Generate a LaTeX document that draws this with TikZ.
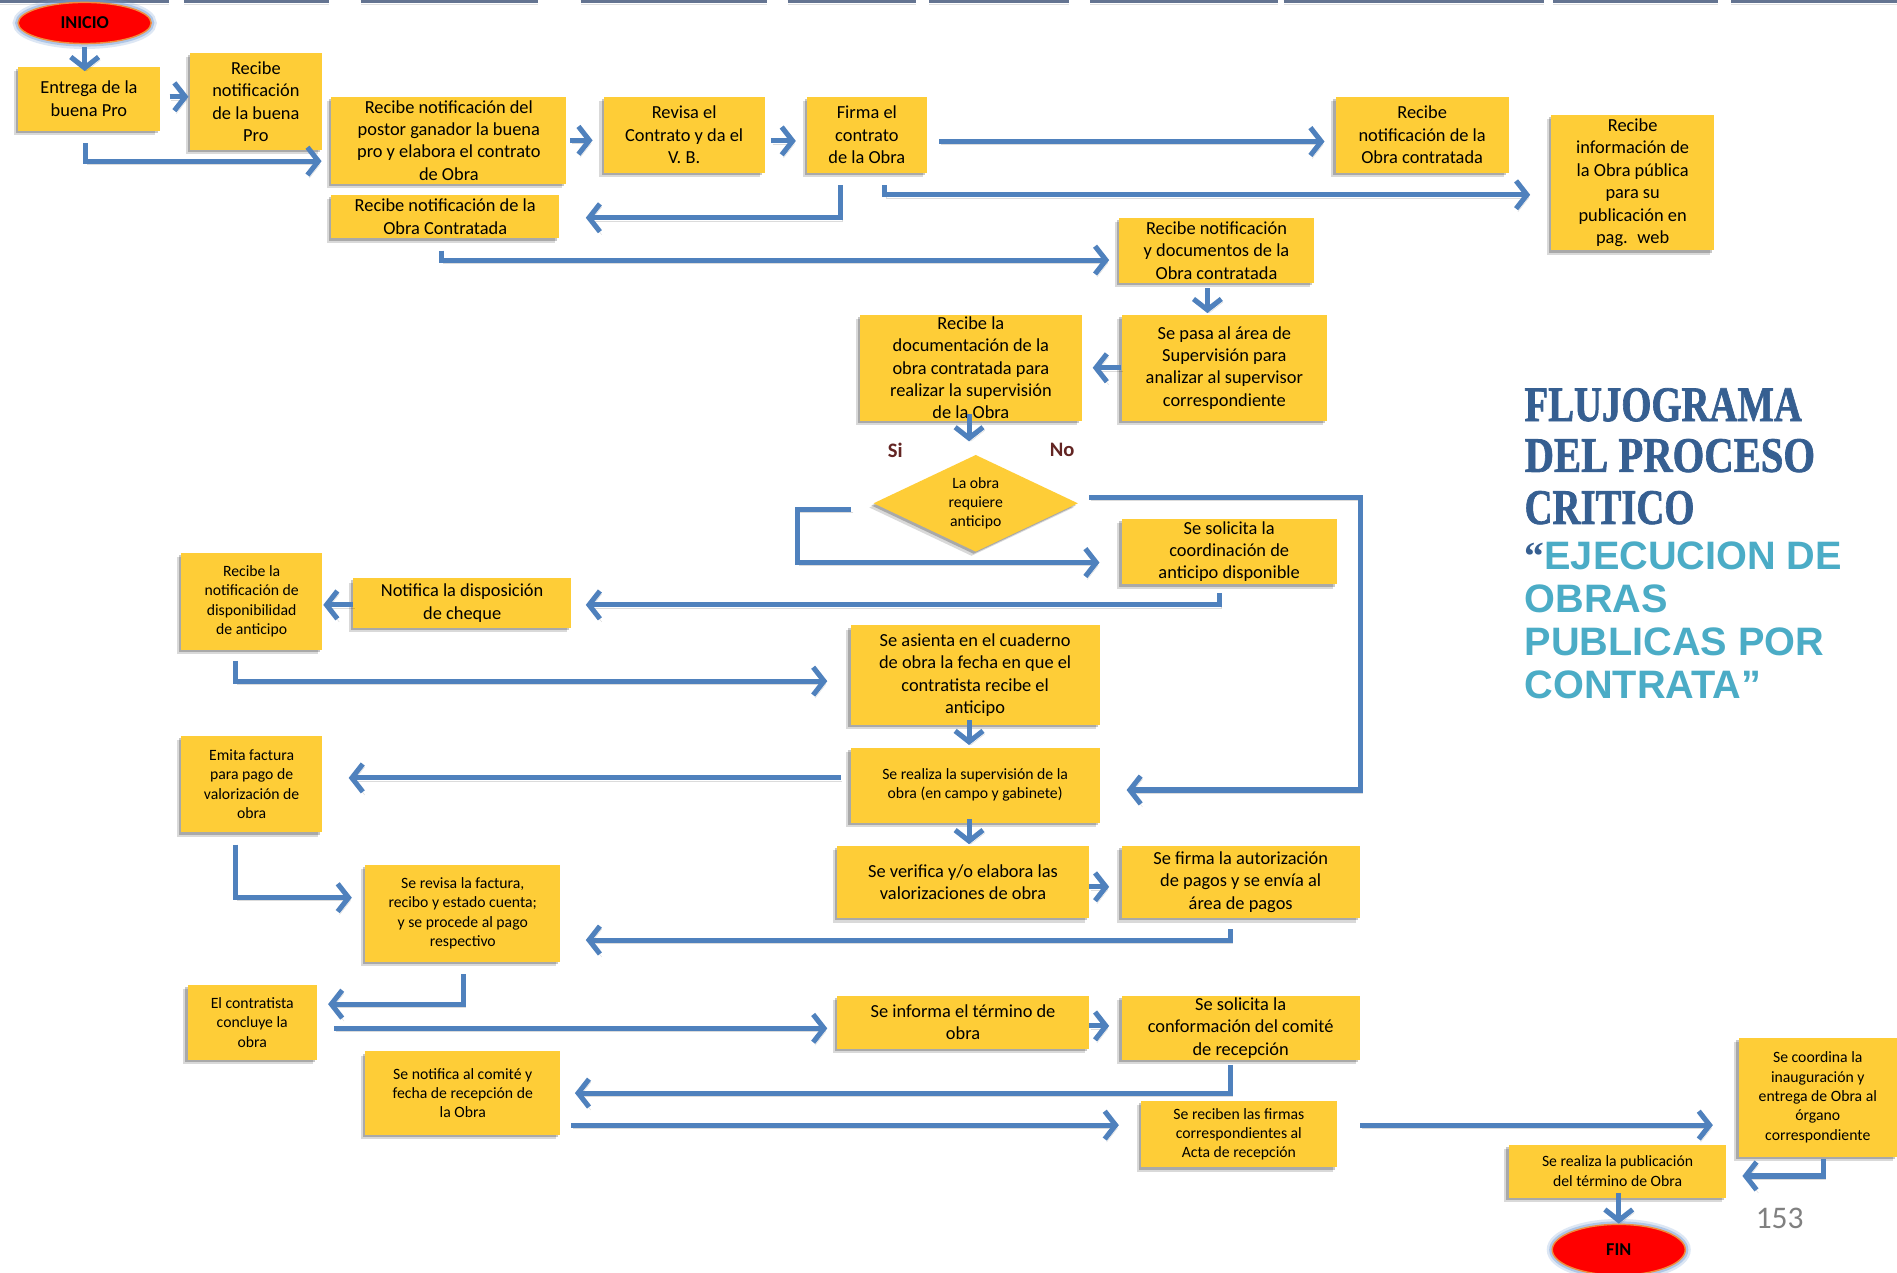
\documentclass[tikz,border=0pt]{standalone}
\usepackage{fontspec}
\setmainfont{Carlito}
\newfontfamily\titleserif{Liberation Serif}[BoldFeatures={FakeBold=1.6}]
\newfontfamily\quoteserif{Liberation Serif}
\newfontfamily\titlesans{Liberation Sans}
\usetikzlibrary{arrows.meta,calc,shapes.geometric,shadows}

\definecolor{boxyellow}{RGB}{254,205,55}
\definecolor{flowblue}{RGB}{79,129,189}
\definecolor{titledark}{RGB}{54,95,145}
\definecolor{titlelight}{RGB}{75,172,198}
\definecolor{answer}{RGB}{99,37,35}
\definecolor{rulegray}{RGB}{100,116,145}
\definecolor{termorange}{RGB}{240,140,60}
\definecolor{glowblue}{RGB}{120,160,215}

\newcommand\bigtxt{\fontsize{15.2}{18.5}\selectfont}
\newcommand\smtxt{\fontsize{13}{16}\selectfont}

\begin{document}
\begin{tikzpicture}[x=1pt,y=-1pt,
  soft/.style={drop shadow={shadow xshift=-3.5pt,shadow yshift=-3.5pt,opacity=0.15,fill=black},
               drop shadow={shadow xshift=-1.8pt,shadow yshift=-1.8pt,opacity=0.22,fill=black}},
  box/.style={rectangle,fill=boxyellow,inner sep=0pt,align=center,text=black,font=\bigtxt,soft},
  sbox/.style={box,font=\smtxt},
  sz/.style 2 args={minimum width=#1pt,minimum height=#2pt},
  decision/.style={diamond,aspect=2.1,fill=boxyellow,inner sep=0pt,align=center,font=\smtxt,soft},
  term/.style={ellipse,fill=red,draw=termorange,line width=1.2pt,inner sep=0pt,
               font=\bfseries\fontsize{15}{17}\selectfont,
               preaction={draw=glowblue,line width=9pt,opacity=0.25},
               preaction={draw=glowblue,line width=5pt,opacity=0.45}},
  flow/.style={draw=flowblue,line width=4.2pt,-{Straight Barb[length=9pt,width=23pt]},
               preaction={draw=black,opacity=0.14,transform canvas={shift={(1.5pt,-2.5pt)}}}},
  toprule/.style={draw=rulegray,line width=2.6pt,
               preaction={draw=black,opacity=0.12,transform canvas={shift={(0pt,-2.5pt)}}}},
  answer/.style={text=answer,font=\bfseries\fontsize{17}{20}\selectfont},
  darktitle/.style={anchor=base west,inner sep=0pt,text=titledark,font=\titleserif\bfseries\fontsize{41}{43}\selectfont},
  lighttitle/.style={anchor=base west,inner sep=0pt,text=titlelight,font=\titlesans\bfseries\fontsize{32.8}{36}\selectfont},
]
\useasboundingbox (0,0) rectangle (1568,1052);
\fill[white] (0,0) rectangle (1568,1052);

% thin rules along the upper edge
\foreach \a/\b in {0/140,152/272,298/445,480/634,651/757,768/884,901/1056,1061/1276,1284/1420,1431/1568}
  \draw[toprule] (\a,1.2) -- (\b,1.2);

% start and end
\node[term,minimum width=110pt,minimum height=34pt] (inicio) at (70,19) {INICIO};
\node[term,minimum width=110pt,minimum height=42pt] (fin) at (1338,1033) {FIN};

% process steps
\node[box,sz={117}{53}] (a1) at (73.5,81.5) {Entrega de la\\buena Pro};
\node[box,sz={109}{80}] (a2) at (211.5,84) {Recibe\\notificación\\de la buena\\Pro};
\node[box,sz={194}{72}] (a3) at (371,116) {Recibe notificación del\\postor ganador la buena\\pro y elabora el contrato\\de Obra};
\node[box,sz={188}{36}] (a4) at (368,179) {Recibe notificación de la\\Obra Contratada};
\node[box,sz={133}{63}] (a5) at (565.5,111.5) {Revisa el\\Contrato y da el\\V. B.};
\node[box,sz={99}{63}] (a6) at (716.5,111.5) {Firma el\\contrato\\de la Obra};
\node[box,sz={143}{63}] (a7) at (1175.5,111.5) {Recibe\\notificación de la\\Obra contratada};
\node[box,sz={135}{112}] (a8) at (1349.5,151) {Recibe\\información de\\la Obra pública\\para su\\publicación en\\pag.~ web};
\node[box,sz={161}{54}] (a9) at (1005.5,207) {Recibe notificación\\y documentos de la\\Obra contratada};
\node[box,sz={170}{88}] (a10) at (1012,304) {Se pasa al área de\\Supervisión para\\analizar al supervisor\\correspondiente};
\node[box,sz={183}{88}] (a11) at (802.5,304) {Recibe la\\documentación de la\\obra contratada para\\realizar la supervisión\\de la Obra};
\node[decision,minimum width=169pt,minimum height=80pt] (dia) at (806.5,416) {La obra\\requiere\\anticipo};
\node[answer] (si) at (740,372) {Si};
\node[answer] (no) at (878,372) {No};
\node[box,sz={178}{54}] (a12) at (1016,456) {Se solicita la\\coordinación de\\anticipo disponible};
\node[box,sz={180}{41}] (a13) at (382,498.5) {Notifica la disposición\\de cheque};
\node[sbox,sz={116}{80}] (a14) at (208,497) {Recibe la\\notificación de\\disponibilidad\\de anticipo};
\node[box,sz={206}{82}] (a15) at (806,558) {Se asienta en el cuaderno\\de obra la fecha en que el\\contratista recibe el\\anticipo};
\node[sbox,sz={206}{62}] (a16) at (806,649) {Se realiza la supervisión de la\\obra (en campo y gabinete)};
\node[sbox,sz={116}{80}] (a17) at (208,648) {Emita factura\\para pago de\\valorización de\\obra};
\node[box,sz={208}{60}] (a18) at (796,729) {Se verifica y/o elabora las\\valorizaciones de obra};
\node[box,sz={197}{60}] (a19) at (1025.5,729) {Se firma la autorización\\de pagos y se envía al\\área de pagos};
\node[sbox,sz={161}{80}] (a20) at (382.5,755) {Se revisa la factura,\\recibo y estado cuenta;\\y se procede al pago\\respectivo};
\node[sbox,sz={107}{62}] (a21) at (208.5,845) {El contratista\\concluye la\\obra};
\node[box,sz={208}{44}] (a22) at (796,845) {Se informa el término de\\obra};
\node[box,sz={197}{53}] (a23) at (1025.5,849.5) {Se solicita la\\conformación del comité\\de recepción};
\node[sbox,sz={161}{69}] (a24) at (382.5,903.5) {Se notifica al comité y\\fecha de recepción de\\la Obra};
\node[sbox,sz={162}{55}] (a25) at (1024,937.5) {Se reciben las firmas\\correspondientes al\\Acta de recepción};
\node[sbox,sz={131}{98}] (a26) at (1502.5,907) {Se coordina la\\inauguración y\\entrega de Obra al\\órgano\\correspondiente};
\node[sbox,sz={180}{44}] (a27) at (1337,968) {Se realiza la publicación\\del término de Obra};

% connectors
\draw[flow] ($(inicio.south)+(0,2)$) -- ($(inicio.south |- a1.north)+(0,4)$);
\draw[flow] ($(a1.east)+(8,-1.5)$) -- ($(a1.east -| a2.west)+(-1,-1.5)$);
\draw[flow] ($(a1.south)+(-3,10)$) |- ($(a3.south west)+(-8,-19)$);
\draw[flow] ($(a3.east)+(3,0)$) -- ($(a3.east -| a5.west)+(-9,0)$);
\draw[flow] ($(a5.east)+(5,5)$) -- ($(a5.east -| a6.west)+(-9,5)$);
\draw[flow] ($(a6.east)+(10,5.5)$) -- ($(a6.east -| a7.west)+(-9,5.5)$);
\draw[flow] ($(a6.south)+(14.5,10)$) |- ($(a8.west)+(-17,10)$);
\draw[flow] ($(a6.south)+(-21.5,10)$) |- ($(a4.east)+(22,1)$);
\draw[flow] ($(a4.south)+(-3,10)$) |- ($(a9.west)+(-8,8)$);
\draw[flow] ($(a9.south)+(-7.5,4)$) -- ($(a9.south |- a10.north)+(-7.5,-1)$);
\draw[flow] (a10.west) -- ($(a10.west -| a11.east)+(9,0)$);
\draw[flow] ($(a11.south)+(-1.5,-6)$) -- ($(a11.south |- dia.north)+(-1.5,-11)$);
\draw[flow] ($(dia.west)+(-18,5)$) -- ++(-45,0) |- ($(a12.west)+(-18,9)$);
\draw[flow] ($(dia.east)+(9,-5)$) -| ($(a16.east)+(215,4)$) -- ($(a16.east)+(22,4)$);
\draw[flow] ($(a12.south)+(-8,7)$) |- ($(a13.east)+(12,1.5)$);
\draw[flow] ($(a13.west)+(0,1.5)$) -- ($(a13.west -| a14.east)+(1,1.5)$);
\draw[flow] ($(a14.south)+(-13,9)$) |- ($(a15.west)+(-19,5)$);
\draw[flow] ($(a15.south)+(-5,-4)$) -- ($(a15.south |- a16.north)+(-5,-2)$);
\draw[flow] ($(a16.west)+(-8,-6)$) -- ($(a16.west -| a17.east)+(22,-6)$);
\draw[flow] ($(a16.south)+(-5,-3)$) -- ($(a16.south |- a18.north)+(-5,-1)$);
\draw[flow] ($(a18.east)+(0,4)$) -- ($(a18.east -| a19.west)+(-10,4)$);
\draw[flow] ($(a17.south)+(-13,10)$) |- ($(a20.west)+(-11,-13)$);
\draw[flow] ($(a19.south)+(-8.5,9)$) |- ($(a20.east)+(21,22)$);
\draw[flow] ($(a20.south)+(0.5,10)$) |- ($(a21.east)+(9,-15)$);
\draw[flow] ($(a21.east)+(14,5)$) -- ($(a21.east -| a22.west)+(-8,5)$);
\draw[flow] ($(a22.east)+(0,3)$) -- ($(a22.east -| a23.west)+(-10,3)$);
\draw[flow] ($(a23.south)+(-8.5,4)$) |- ($(a24.east)+(12,0)$);
\draw[flow] ($(a24.east)+(9,26.5)$) -- ($(a24.east -| a25.west)+(-18,26.5)$);
\draw[flow] ($(a25.east)+(19,-7.5)$) -- ($(a25.east -| a26.west)+(-21,-7.5)$);
\draw[flow] ($(a26.south)+(4.5,2)$) |- ($(a27.east)+(13,4)$);
\draw[flow] ($(a27.south)+(1,-4)$) -- ($(a27.south |- fin.north)+(1,0)$);

% title
\node[darktitle] (t1) at (1260,348) {\scalebox{0.78}[1]{FLUJOGRAMA}};
\node[darktitle] (t2) at (1260,390) {\scalebox{0.82}[1]{DEL PROCESO}};
\node[darktitle] (t3) at (1260,433) {\scalebox{0.78}[1]{CRITICO}};
\node[lighttitle] (t4) at (1260,470.5) {{\color{titledark}\quoteserif\bfseries“}EJECUCION DE};
\node[lighttitle] (t5) at (1260,506) {OBRAS};
\node[lighttitle] (t6) at (1260,542) {PUBLICAS POR};
\node[lighttitle] (t7) at (1260,577) {CONTRATA”};

% page number
\node[text=black!50,font=\fontsize{26}{30}\selectfont] (pg) at (1471,1007) {153};
\end{tikzpicture}
\end{document}
